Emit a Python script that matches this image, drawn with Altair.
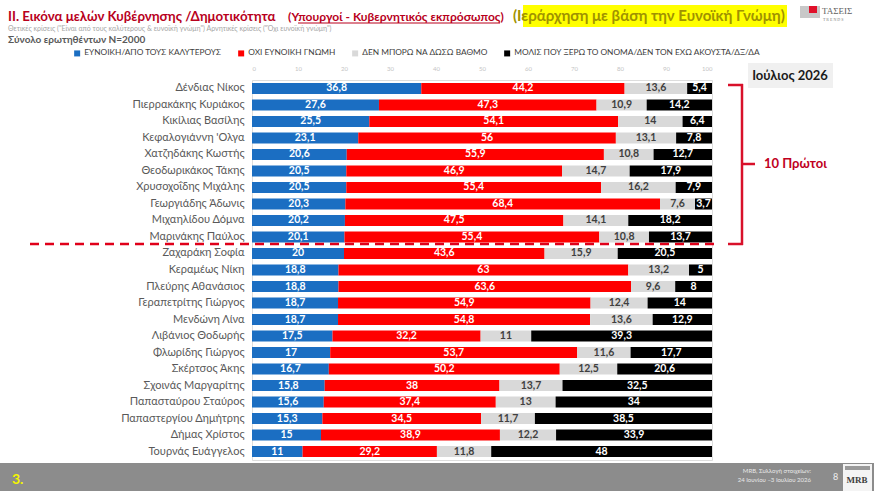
import altair as alt
import pandas as pd

# Ministers, ranked by favourable opinion
names = [
    "Δένδιας Νίκος", "Πιερρακάκης Κυριάκος", "Κικίλιας Βασίλης", "Κεφαλογιάννη 'Ολγα",
    "Χατζηδάκης Κωστής", "Θεοδωρικάκος Τάκης", "Χρυσοχοΐδης Μιχάλης", "Γεωργιάδης Άδωνις",
    "Μιχαηλίδου Δόμνα", "Μαρινάκης Παύλος", "Ζαχαράκη Σοφία", "Κεραμέως Νίκη",
    "Πλεύρης Αθανάσιος", "Γεραπετρίτης Γιώργος", "Μενδώνη Λίνα", "Λιβάνιος Θοδωρής",
    "Φλωρίδης Γιώργος", "Σκέρτσος Άκης", "Σχοινάς Μαργαρίτης", "Παπασταύρου Σταύρος",
    "Παπαστεργίου Δημήτρης", "Δήμας Χρίστος", "Τουρνάς Ευάγγελος",
]
favourable = [36.8, 27.6, 25.5, 23.1, 20.6, 20.5, 20.5, 20.3, 20.2, 20.1, 20.0, 18.8,
              18.8, 18.7, 18.7, 17.5, 17.0, 16.7, 15.8, 15.6, 15.3, 15.0, 11.0]
unfavourable = [44.2, 47.3, 54.1, 56.0, 55.9, 46.9, 55.4, 68.4, 47.5, 55.4, 43.6, 63.0,
                63.6, 54.9, 54.8, 32.2, 53.7, 50.2, 38.0, 37.4, 34.5, 38.9, 29.2]
cannot_rate = [13.6, 10.9, 14.0, 13.1, 10.8, 14.7, 16.2, 7.6, 14.1, 10.8, 15.9, 13.2,
               9.6, 12.4, 13.6, 11.0, 11.6, 12.5, 13.7, 13.0, 11.7, 12.2, 11.8]
barely_known = [5.4, 14.2, 6.4, 7.8, 12.7, 17.9, 7.9, 3.7, 18.2, 13.7, 20.5, 5.0,
                8.0, 14.0, 12.9, 39.3, 17.7, 20.6, 32.5, 34.0, 38.5, 33.9, 48.0]

categories = [
    "ΕΥΝΟΙΚΗ/ΑΠΟ ΤΟΥΣ ΚΑΛΥΤΕΡΟΥΣ",
    "ΟΧΙ ΕΥΝΟΙΚΗ ΓΝΩΜΗ",
    "ΔΕΝ ΜΠΟΡΩ ΝΑ ΔΩΣΩ ΒΑΘΜΟ",
    "ΜΟΛΙΣ ΠΟΥ ΞΕΡΩ ΤΟ ΟΝΟΜΑ/ΔΕΝ ΤΟΝ ΕΧΩ ΑΚΟΥΣΤΑ/ΔΞ/ΔΑ",
]
palette = ["#1b6ec2", "#ff0000", "#d9d9d9", "#000000"]
x_ticks = [0, 10, 20, 30, 40, 50, 60, 70, 80, 90, 100]

FONT = "Lato"

# long table: one row per minister and answer
rows = []
for series_idx, series in enumerate([favourable, unfavourable, cannot_rate, barely_known]):
    for name, v in zip(names, series):
        rows.append({
            "name": name,
            "category": categories[series_idx],
            "order": series_idx,
            "value": v,
            "label": f"{v:g}".replace(".", ","),
        })
df = pd.DataFrame(rows)

# plot origin inside the page
OX, OY = 252, 80

base = alt.Chart(df).transform_stack(
    stack="value", groupby=["name"], sort=[alt.SortField("order")], as_=["x0", "x1"]
).transform_calculate(mid="(datum.x0 + datum.x1) / 2")

y_enc = alt.Y(
    "name:N", sort=names, title=None,
    scale=alt.Scale(paddingInner=0.33, paddingOuter=0.18),
    axis=alt.Axis(labelFontSize=11, labelColor="#595959", labelPadding=8,
                  ticks=False, domain=False, labelFont=FONT, labelLimit=220),
)

bars = base.mark_bar().encode(
    x=alt.X("x0:Q", title=None, scale=alt.Scale(domain=[0, 100], nice=False),
            axis=alt.Axis(orient="top", values=x_ticks, grid=False, domain=False,
                          ticks=False, labelFontSize=6, labelColor="#c4c4c4",
                          labelPadding=9, labelFont=FONT)),
    x2="x1:Q",
    y=y_enc,
    color=alt.Color(
        "category:N", scale=alt.Scale(domain=categories, range=palette), title=None,
        legend=alt.Legend(orient="none", direction="horizontal", legendX=73 - OX,
                          legendY=49 - OY, symbolType="square", symbolSize=36,
                          symbolStrokeWidth=0, labelFontSize=8.3, labelColor="#404040",
                          labelFont=FONT, columnPadding=15, symbolOffset=0,
                          labelOffset=3, labelLimit=400),
    ),
)

labels = base.mark_text(font=FONT, fontSize=10.5, fontWeight="bold").encode(
    x=alt.X("mid:Q"),
    y=alt.Y("name:N", sort=names),
    text="label:N",
    color=alt.condition("datum.order == 2", alt.value("#404040"), alt.value("#ffffff")),
)

one = pd.DataFrame({"k": [0]})


def txt(s, x, y, size, color, weight="normal", align="left", font=FONT, baseline="alphabetic"):
    return alt.Chart(one).mark_text(
        text=s, fontSize=size, color=color, fontWeight=weight, align=align,
        baseline=baseline, font=font,
    ).encode(x=alt.value(x - OX), y=alt.value(y - OY))


def rect(x1, y1, x2, y2, color):
    return alt.Chart(one).mark_rect(color=color).encode(
        x=alt.value(x1 - OX), x2=alt.value(x2 - OX), y=alt.value(y1 - OY), y2=alt.value(y2 - OY)
    )


def rule(x1, y1, x2, y2, color, width, dash=None):
    kw = {"color": color, "strokeWidth": width, "strokeCap": "butt"}
    if dash:
        kw["strokeDash"] = dash
    return alt.Chart(one).mark_rule(**kw).encode(
        x=alt.value(x1 - OX), x2=alt.value(x2 - OX), y=alt.value(y1 - OY), y2=alt.value(y2 - OY)
    )


deco = [
    # headline
    txt("II. Εικόνα μελών Κυβέρνησης /Δημοτικότητα", 8, 21, 13.3, "#b8001c", "bold"),
    txt("(Υπουργοί - Κυβερνητικός εκπρόσωπος)", 288, 21, 12, "#b8001c", "bold"),
    rule(298, 23, 500, 23, "#b8001c", 1),
    rect(523, 5, 787, 27, "#ffff00"),
    txt("(Ιεράρχηση με βάση την Ευνοϊκή Γνώμη)", 513, 21, 15, "#a09200", "bold"),
    # logo
    rect(800, 6, 820, 18, "#c8c8c8"),
    rect(809, 6, 817, 13, "#e0102a"),
    txt("ΤΑΣΕΙΣ", 822, 14, 9, "#606060", font="Liberation Serif"),
    txt("T R E N D S", 823, 21, 4, "#808080", font="Liberation Serif"),
    # sub headings
    txt("Θετικές κρίσεις (\"Είναι από τους καλύτερους & ευνοϊκή γνώμη\")  Αρνητικές κρίσεις (\"Όχι ευνοϊκή γνώμη\")",
        8, 31, 7, "#a6a6a6"),
    txt("Σύνολο ερωτηθέντων N=2000", 8, 43, 10, "#595959", "bold"),
    # month tag
    rect(748, 63, 833, 88, "#f0f0f0"),
    txt("Ιούλιος 2026", 790, 76, 13, "#1a1a1a", "bold", align="center", baseline="middle"),
    # top-ten separator and brace
    rule(30, 244, 716, 244, "#e0001a", 2.5, [9, 6]),
    rule(728, 85, 743, 85, "#d8102a", 2.5),
    rule(742, 84, 742, 245, "#d8102a", 2.5),
    rule(728, 244, 743, 244, "#d8102a", 2.5),
    rule(742, 164, 755, 164, "#d8102a", 2.5),
    txt("10 Πρώτοι", 764, 164, 13, "#c0001e", "bold", baseline="middle"),
    # footer band
    rect(0, 463, 874, 491, "#8c8c8c"),
    txt("3.", 12, 484, 14, "#f5f500", "bold"),
    txt("MRB, Συλλογή στοιχείων:", 811, 473, 6, "#e8e8e8", align="right"),
    txt("24 Ιουνίου –3 Ιουλίου 2026", 811, 482, 6, "#e8e8e8", align="right"),
    txt("8", 833, 480, 9, "#f0f0f0"),
    rect(843, 464, 872, 491, "#f4f4f4"),
    rect(845, 466, 870, 470, "#9a9a9a"),
    txt("MRB", 857, 483, 9, "#404040", "bold", align="center", font="Liberation Serif"),
]

chart = alt.layer(bars, labels, *deco).properties(
    width=460, height=380,
    autosize=alt.AutoSizeParams(type="none"),
    padding={"left": OX, "top": OY, "right": 874 - OX - 460, "bottom": 491 - OY - 380},
    background="#ffffff",
).configure_view(stroke=None).configure(font=FONT)

chart.save("out.html", embed_options={"renderer": "svg", "actions": False})
